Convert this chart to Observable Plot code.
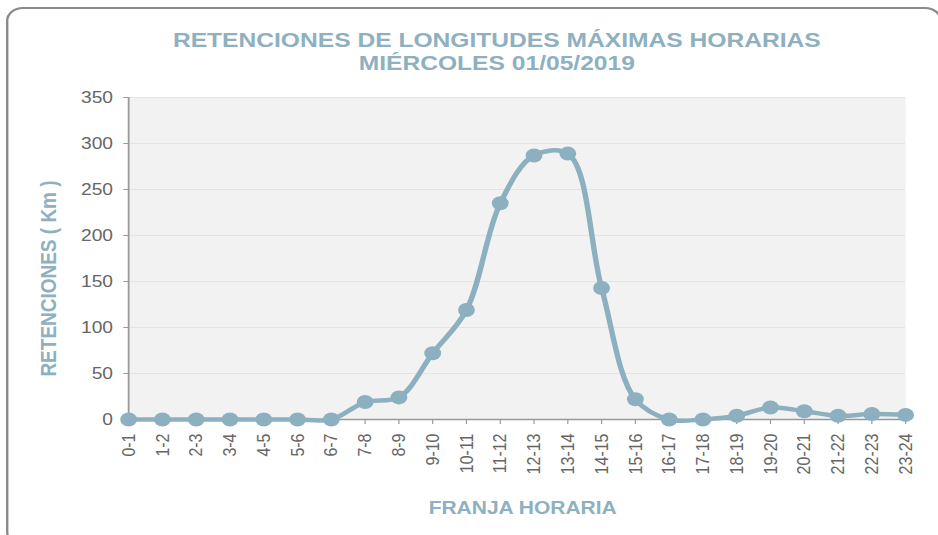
<!DOCTYPE html>
<html><head><meta charset="utf-8">
<script src="https://cdn.jsdelivr.net/npm/d3@7"></script>
<script src="https://cdn.jsdelivr.net/npm/@observablehq/plot@0.6"></script>
<style>
body{margin:0;background:#fff;font-family:"Liberation Sans",Arial,sans-serif;overflow:hidden;}
#outer{position:relative;width:938px;height:535px;overflow:hidden;}
#wrap{position:absolute;left:0;top:0;width:782px;height:535px;transform:scaleX(1.2);transform-origin:0 0;}
#border{position:absolute;left:5px;top:7px;width:776px;height:535px;border:2px solid #8a8a8a;border-radius:14px;}
#title{position:absolute;left:0;top:28px;width:828px;text-align:center;color:#8eb0c0;font-weight:bold;font-size:20.5px;line-height:23px;}
#chart{position:absolute;left:0;top:75px;}
</style></head>
<body><div id="outer"><div id="wrap"><div id="border"></div>
<div id="title">RETENCIONES DE LONGITUDES MÁXIMAS HORARIAS<br>MIÉRCOLES 01/05/2019</div>
<div id="chart"></div></div></div>
<script>
const franjas = ["0-1","1-2","2-3","3-4","4-5","5-6","6-7","7-8","8-9","9-10","10-11","11-12","12-13","13-14","14-15","15-16","16-17","17-18","18-19","19-20","20-21","21-22","22-23","23-24"];
const retenciones = [0,0,0,0,0,0,0,19,24,72,119,235,287,289,143,22,0,0,4,13,9,4,6,5];
const yTicks = [0,50,100,150,200,250,300,350];
const data = franjas.map((f,i)=>({franja:f, km:retenciones[i]}));
const col = "#8cb0c0";
const W = 782, L = 106.7, R = 754.2;
const chart = Plot.plot({
  width: W, height: 460,
  marginLeft: L, marginRight: W - R, marginTop: 22, marginBottom: 116,
  style: {fontFamily: "Liberation Sans, Arial, sans-serif", fontSize: "16px", color: "#666", overflow: "visible"},
  x: {type: "point", domain: franjas, padding: 0, round: false, label: null, tickSize: 5, tickPadding: 9, tickRotate: -90},
  y: {domain: [0,350], ticks: yTicks, label: null, tickSize: 4, tickPadding: 9},
  marks: [
    Plot.frame({fill: "#f2f2f2", stroke: null}),
    Plot.ruleY(yTicks.slice(1), {stroke: "#e4e4e4"}),
    Plot.ruleY([0], {stroke: "#999", strokeWidth: 1.5}),
    Plot.ruleX([franjas[0]], {y1: 0, y2: 350, stroke: "#999", strokeWidth: 1.5}),
    Plot.line(data, {x: "franja", y: "km", stroke: col, strokeWidth: 4.5, curve: "catmull-rom"}),
    Plot.dot(data, {x: "franja", y: "km", r: 7, fill: col}),
    Plot.text(["RETENCIONES ( Km )"], {frameAnchor: "left", dx: -66.7, dy: 20, rotate: -90, textAnchor: "middle", fill: "#8eb0c0", fontWeight: "bold", fontSize: 19}),
    Plot.text(["FRANJA HORARIA"], {frameAnchor: "bottom", dy: 94, dx: 4.6, fill: "#8eb0c0", fontWeight: "bold", fontSize: 17.5})
  ]
});
d3.select(chart).selectAll("g[aria-label='x-axis tick'], g[aria-label='y-axis tick']").attr("stroke","#999");
document.getElementById("chart").appendChild(chart);
</script></body></html>
